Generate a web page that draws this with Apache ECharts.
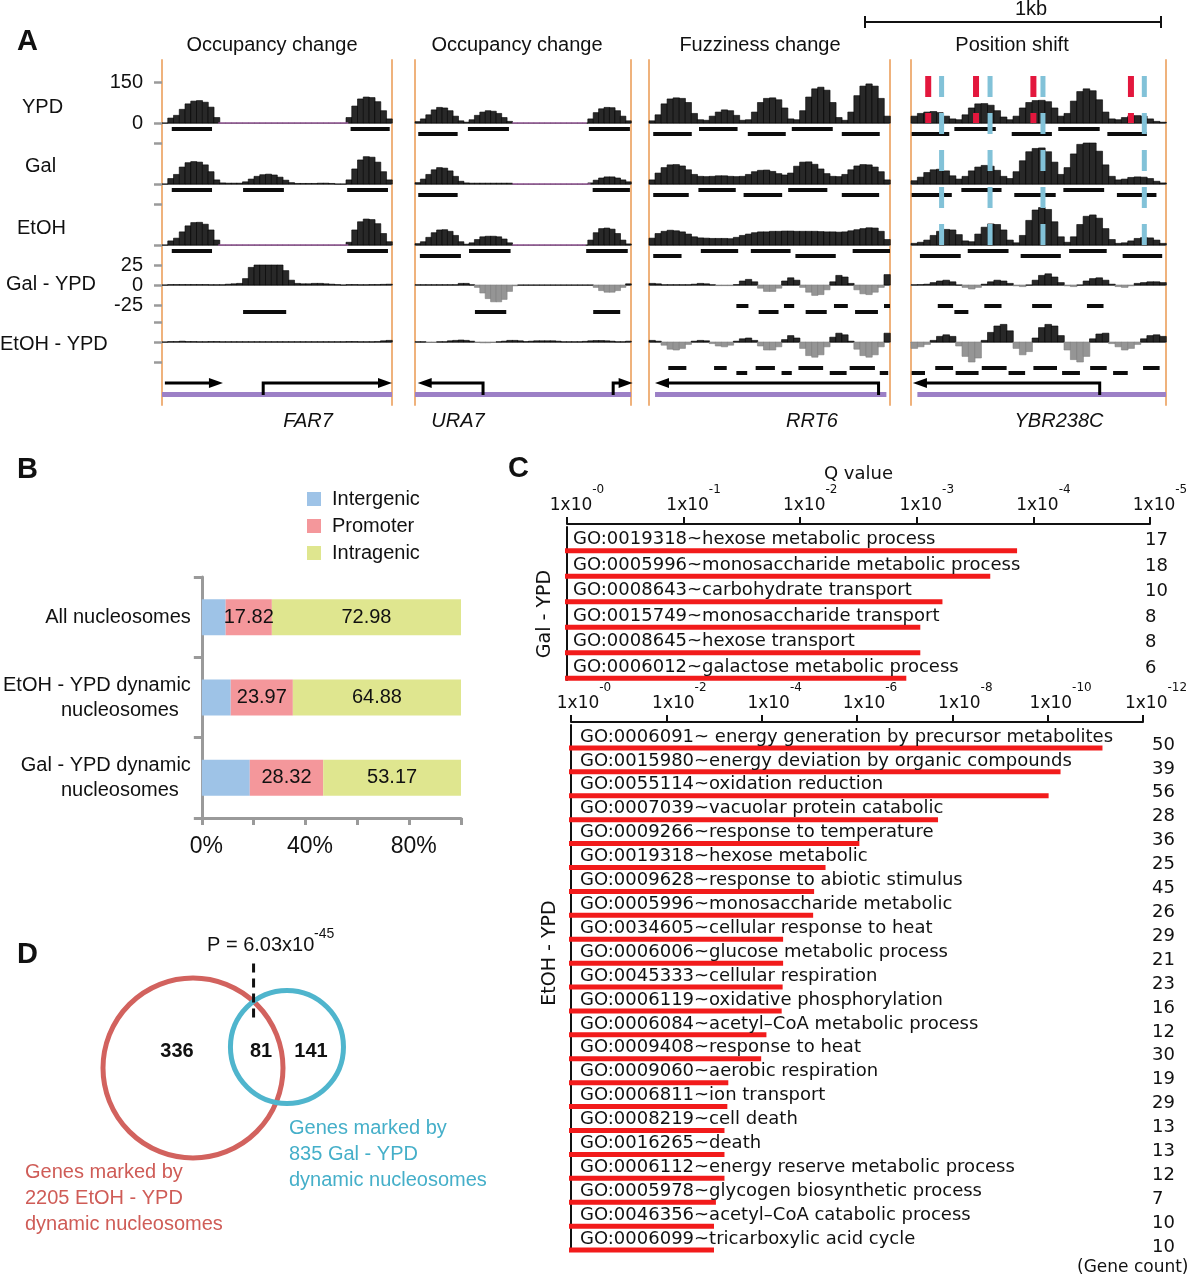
<!DOCTYPE html>
<html><head><meta charset="utf-8">
<script src="https://cdn.jsdelivr.net/npm/echarts@6/dist/echarts.min.js"></script>
<style>html,body{margin:0;padding:0;background:#fff}#c{width:1195px;height:1280px}</style>
</head><body><div id="c"></div>
<script>
// ================= DATA =================
const NBIN = 40;
const columnTitles = ['Occupancy change', 'Occupancy change', 'Fuzziness change', 'Position shift'];
const geneNames = ['FAR7', 'URA7', 'RRT6', 'YBR238C'];
const trackNames = ['YPD', 'Gal', 'EtOH', 'Gal - YPD', 'EtOH - YPD'];

// nucleosome read profiles (40 bins per locus)
const FAR7_YPD = [0,18,28,50,70,80,82,76,58,20, 0,0,0,0,0,0,0,0,0,0, 0,0,0,0,0,0,0,0,0,0, 0,0,20,62,88,95,93,78,45,15];
const FAR7_Gal = [0,20,35,62,78,82,80,70,45,15, 4,3,3,3,8,18,28,34,36,33, 25,14,5,2,2,2,2,3,3,2, 0,0,15,55,88,100,98,80,45,15];
const FAR7_EtOH = [0,15,25,48,70,82,83,76,55,18, 0,0,0,0,0,0,0,0,0,0, 0,0,0,0,0,0,0,0,0,0, 0,0,10,55,85,95,93,78,42,12];
const FAR7_GalDiff = [0,0.5,0.5,0.5,0.5,0.5,0.5,0.5,0.3,0.3, 0.3,1,1.5,2,8,22,25,25,25,25, 25,18,6,2,1.5,1.5,2,2,1.5,1, 0.5,0,0.5,0.5,0.3,0.3,0.5,0.5,0.8,1];
const FAR7_EtOHDiff = [0,0.5,0.5,1,0.5,0.5,0.3,0.3,0.5,0.5, 0.3,0.3,0.3,0.3,0.3,0.3,0.3,0.3,0.3,0.3, 0.3,0.3,0.3,0.3,0.3,0.3,0.3,0.3,0.3,0.3, 0.3,0.3,0.5,0.5,0.3,0.3,0.3,0.5,1.5,2];

const URA7_YPD = [5,15,30,48,57,55,45,25,8,3, 12,28,40,45,43,35,20,6,0,0, 0,0,0,0,0,0,0,0,0,0, 0,0,15,38,52,57,56,45,25,8];
const URA7_Gal = [5,18,35,52,60,58,48,28,10,4, 3,3,3,3,3,3,3,3,0,0, 0,0,0,0,0,0,0,0,0,0, 0,0,4,14,22,26,26,22,15,8];
const URA7_EtOH = [5,12,28,45,55,56,50,35,12,3, 8,20,30,32,32,30,22,8,0,0, 0,0,0,0,0,0,0,0,0,0, 0,0,18,45,60,62,58,42,18,4];
const URA7_GalDiff = [0.3,0.3,0.3,0.3,0.3,0.3,0.3,0.3,2,2, 0.3,-3,-10,-17,-21,-21,-18,-8,-1,0, 0,0,0,0,0,0,0,0,0,0, 0,0,0,-3,-7,-9,-9,-7,-3,1.5];
const URA7_EtOHDiff = [0.3,0.3,-0.5,-0.5,0.3,0.3,1.5,2,2.5,2, 1,-0.5,-1,-1,-0.5,0.3,1,2,2,1.5, 0.5,1,1.5,1.5,1.5,1.5,1,0.3,0.3,0.3, 0.3,0.8,1.5,1.8,1.8,1.5,1,0.3,0.3,1];

const RRT6_YPD = [8,30,70,88,92,90,75,35,12,10, 25,40,48,45,28,10,12,40,75,90, 92,85,55,15,12,45,95,125,131,120, 75,20,10,40,100,135,143,135,90,25];
const RRT6_Gal = [15,40,60,70,71,66,52,35,28,27, 28,30,30,28,27,28,35,45,50,51, 46,38,33,40,65,80,81,72,55,38, 28,27,35,52,66,71,70,62,45,15];
const RRT6_EtOH = [25,42,50,54,52,48,40,30,26,25, 24,24,24,23,28,35,40,45,48,48, 50,50,51,51,50,50,50,50,49,48, 48,47,48,52,56,60,63,62,50,20];
const RRT6_GalDiff = [2,1.5,0.3,0.3,0.3,0.3,0.3,1,2,1.5, 0.3,-0.8,-0.8,-0.8,0.5,5,7,4,-4,-8, -8,-4,5,9,6,-3,-9,-13,-12,-6, 4,12,10,2,-6,-11,-12,-9,-3,13];
const RRT6_EtOHDiff = [2,1,-4,-9,-10,-8,-3,1,2,1.5, -2,-5,-6,-4,1,4,5,2,-5,-10, -10,-6,3,8,5,-8,-17,-19,-16,-6, 6,11,9,1,-9,-17,-19,-16,-6,11];

const YBR238C_YPD = [25,35,40,42,38,25,15,12,30,55, 70,71,65,45,22,12,25,55,75,82, 83,78,55,25,35,80,115,125,118,85, 40,15,12,20,26,27,25,15,6,3];
const YBR238C_Gal = [12,25,42,52,54,48,30,18,28,48, 62,68,65,50,28,20,45,85,118,130, 132,118,80,35,60,110,145,152,150,120, 70,28,15,18,24,26,25,20,10,4];
const YBR238C_EtOH = [6,10,18,35,50,57,55,38,15,12, 40,65,77,75,55,18,8,35,90,128, 137,130,85,30,10,30,75,105,110,98, 60,20,6,8,15,24,27,26,18,6];
const YBR238C_GalDiff = [0.3,0.5,1,3,5,6,4,0,-3,-5, -3,1,4,6,5,2,-1,-2,0,6, 12,14,10,3,-1,-2,0,5,8,9, 6,1,-2,-3,-1,2,3,4,4,3];
const YBR238C_EtOHDiff = [-8,-6,-3,2,7,9,7,-5,-18,-26, -20,2,12,20,22,14,-8,-16,-12,5, 18,22,20,8,-10,-22,-26,-18,4,10, 11,-2,-6,-10,-8,-3,4,8,9,7];

// nucleosome calls: [start bin, end bin, level (0 lower / 1 upper)]
const FAR7_YPD_calls = [[1.7,8.7,1],[32.8,39.6,1]];
const FAR7_Gal_calls = [[1.7,8.7,1],[14.1,21.2,1],[32.2,39.3,1]];
const FAR7_EtOH_calls = [[1.7,8.7,1],[32.2,39.3,1]];
const FAR7_GalDiff_calls = [[14.1,21.6,0]];
const FAR7_EtOHDiff_calls = [];

const URA7_YPD_calls = [[0.6,7.9,0],[9.8,17.4,1],[32.2,39.8,1]];
const URA7_Gal_calls = [[0.6,7.9,0],[32.9,39.8,1]];
const URA7_EtOH_calls = [[0.9,8.5,0],[10,17.7,1],[31.7,39.4,1]];
const URA7_GalDiff_calls = [[11.1,16.9,0],[33,38,0]];
const URA7_EtOHDiff_calls = [];

const RRT6_YPD_calls = [[0.7,7.1,0],[8.3,14.7,1],[16.4,22.7,0],[23.7,30.5,1],[32,38.3,0]];
const RRT6_Gal_calls = [[0.7,6.6,0],[8.2,14.4,1],[15.7,22.1,0],[23.1,29.6,1],[32,38.2,0]];
const RRT6_EtOH_calls = [[0.7,5.4,0],[8.6,14.8,1],[16.9,23.5,1],[24.3,31,0],[33.8,40,1]];
const RRT6_GalDiff_calls = [[14.5,16.5,1],[18.2,21.5,0],[22.4,24.1,1],[26,29.5,0],[30.7,33,1],[34.2,38,0],[39,40,1]];
const RRT6_EtOHDiff_calls = [[3.2,6.2,1],[10.8,12.9,1],[14.5,16.3,0],[17.7,20.9,1],[22,23.7,0],[24.8,28.9,1],[30,32.8,0],[33.3,37.5,1],[38.3,39.7,0]];

const YBR238C_YPD_calls = [[0.1,6,0],[6.8,13.3,1],[15.8,22.1,0],[23.1,29.6,1],[30.8,37,0]];
const YBR238C_Gal_calls = [[0.1,6.4,0],[7.9,14.2,1],[16.2,22.7,0],[23.9,30.3,1],[32.3,38.5,0]];
const YBR238C_EtOH_calls = [[1.4,7.8,0],[8.9,15.3,1],[17.2,23.5,0],[24.8,30.7,1],[33.2,39.4,0]];
const YBR238C_GalDiff_calls = [[4.2,6.6,1],[6.8,9,0],[11.5,14.2,1],[19,22.1,1],[27.6,30.2,1]];
const YBR238C_EtOHDiff_calls = [[0.1,2.2,0],[3.8,6.6,1],[7,10.6,0],[11.1,15,1],[15.3,17.9,0],[19.2,22.9,1],[23.7,26.5,0],[28.1,30.7,1],[31.7,34,0],[36.4,39,1]];

// regions without reads (thin magenta line): [start, end]
const FAR7_noData = [[[9.8,32.4]], [], [[9.8,32.4]], [], []];
const URA7_noData = [[[18,31.8]], [[18,32.5]], [[18,31.6]], [], []];
const RRT6_noData = [[], [], [], [], []];
const YBR238C_noData = [[], [], [], [], []];

// gene models: [from (TSS side), to (arrow head), has TSS mark]
const FAR7_genes = [[0.5,10.6,0],[17.6,40,1]];
const URA7_genes = [[12.6,0.5,1],[36.7,40.3,1]];
const RRT6_genes = [[38.1,1,1]];
const YBR238C_genes = [[29.6,0.3,1]];
const chromosomeExtent = [[0,40],[0,40],[1,39.4],[1,40]];

// nucleosome dyad positions (position shift locus)
const dyadYPD = [2.7, 10.2, 19.2, 34.5];
const dyadShifted = [4.8, 12.4, 20.7, 36.6];

// ---- Panel B ----
const regionCats = ['All nucleosomes', 'EtOH - YPD dynamic\nnucleosomes', 'Gal - YPD dynamic\nnucleosomes'];
const intergenicPct = [9.20, 11.15, 18.51];
const promoterPct = [17.82, 23.97, 28.32];
const intragenicPct = [72.98, 64.88, 53.17];

// ---- Panel C ----
const galTerms = ['GO:0019318~hexose metabolic process','GO:0005996~monosaccharide metabolic process','GO:0008643~carbohydrate transport','GO:0015749~monosaccharide transport','GO:0008645~hexose transport','GO:0006012~galactose metabolic process'];
const galNegLog10Q = [3.86, 3.63, 3.22, 3.03, 3.03, 2.91];
const galGeneCount = [17, 18, 10, 8, 8, 6];

const etohTerms = ['GO:0006091~ energy generation by precursor metabolites','GO:0015980~energy deviation by organic compounds','GO:0055114~oxidation reduction','GO:0007039~vacuolar protein catabolic','GO:0009266~response to temperature','GO:0019318~hexose metabolic','GO:0009628~response to abiotic stimulus','GO:0005996~monosaccharide metabolic','GO:0034605~cellular response to heat','GO:0006006~glucose metabolic process','GO:0045333~cellular respiration','GO:0006119~oxidative phosphorylation','GO:0006084~acetyl\u2013CoA metabolic process','GO:0009408~response to heat','GO:0009060~aerobic respiration','GO:0006811~ion transport','GO:0008219~cell death','GO:0016265~death','GO:0006112~energy reserve metabolic process','GO:0005978~glycogen biosynthetic process','GO:0046356~acetyl\u2013CoA catabolic process','GO:0006099~tricarboxylic acid cycle'];
const etohNegLog10Q = [11.15, 10.27, 10.02, 7.70, 6.05, 5.34, 5.10, 5.08, 4.45, 4.45, 4.44, 4.42, 4.10, 3.99, 3.30, 3.28, 3.22, 3.22, 3.22, 3.04, 3.00, 3.00];
const etohGeneCount = [50, 39, 56, 28, 36, 25, 45, 26, 29, 21, 23, 16, 12, 30, 19, 29, 13, 13, 12, 7, 10, 10];

// ---- Panel D ----
const vennSetNames = ['EtOH - YPD', 'Gal - YPD'];
const vennRadius = [1.0, 0.628];
const vennCenterX = [0, 1.044];
const vennCenterY = [0, 0.233];
const vennRegionCounts = [336, 81, 141];
const vennRegionX = [-0.178, 0.756, 1.311];
const vennRegionY = [0.178, 0.178, 0.178];

// ================= LAYOUT / STYLE =================
const FONT = 'Liberation Sans, Arial, sans-serif';
const FONTC = 'DejaVu Sans, sans-serif';
const COLS = [{x0:162,x1:392},{x0:415,x1:631},{x0:649,x1:890},{x0:911,x1:1166}];
const TRACKS = [
  {top:82, h:41, min:0, max:150, base:'zero', off:[11,6]},
  {top:143,h:41, min:0, max:150, base:'zero', off:[11,6]},
  {top:204,h:41, min:0, max:150, base:'zero', off:[11,6]},
  {top:265,h:40, min:-25,max:25, base:'min',  off:[7,1]},
  {top:322,h:40, min:-25,max:25, base:'min',  off:[11,6]}
];
const profiles = [
  [FAR7_YPD, FAR7_Gal, FAR7_EtOH, FAR7_GalDiff, FAR7_EtOHDiff],
  [URA7_YPD, URA7_Gal, URA7_EtOH, URA7_GalDiff, URA7_EtOHDiff],
  [RRT6_YPD, RRT6_Gal, RRT6_EtOH, RRT6_GalDiff, RRT6_EtOHDiff],
  [YBR238C_YPD, YBR238C_Gal, YBR238C_EtOH, YBR238C_GalDiff, YBR238C_EtOHDiff]];
const callSets = [
  [FAR7_YPD_calls, FAR7_Gal_calls, FAR7_EtOH_calls, FAR7_GalDiff_calls, FAR7_EtOHDiff_calls],
  [URA7_YPD_calls, URA7_Gal_calls, URA7_EtOH_calls, URA7_GalDiff_calls, URA7_EtOHDiff_calls],
  [RRT6_YPD_calls, RRT6_Gal_calls, RRT6_EtOH_calls, RRT6_GalDiff_calls, RRT6_EtOHDiff_calls],
  [YBR238C_YPD_calls, YBR238C_Gal_calls, YBR238C_EtOH_calls, YBR238C_GalDiff_calls, YBR238C_EtOHDiff_calls]];
const noDataSets = [FAR7_noData, URA7_noData, RRT6_noData, YBR238C_noData];
const geneSets = [FAR7_genes, URA7_genes, RRT6_genes, YBR238C_genes];

const grids = [], xAxes = [], yAxes = [], series = [];
function clamp(v,a,b){ return Math.max(a, Math.min(b, v)); }
function addPanel(gridSpec, xSpec, ySpec){
  const gi = grids.length; grids.push(gridSpec);
  const xi = xAxes.length; xAxes.push(Object.assign({gridIndex:gi}, xSpec));
  const yi = yAxes.length; yAxes.push(Object.assign({gridIndex:gi}, ySpec));
  return {gi, xi, yi};
}
function hidden(min, max){ return {type:'value', min:min, max:max, show:false, splitLine:{show:false}}; }

// ---------- Panel A ----------
COLS.forEach((col, c) => {
  TRACKS.forEach((tr, t) => {
    const P = addPanel({left:col.x0, top:tr.top, width:col.x1-col.x0, height:tr.h},
      {type:'value', min:0, max:NBIN, show:true,
        axisLine:{show:true, onZero:true, lineStyle:{color:'#8a8a8a', width:1}},
        axisTick:{show:false}, axisLabel:{show:false}, splitLine:{show:false}},
      {type:'value', min:tr.min, max:tr.max, interval: tr.min<0 ? 25 : 150,
        show: c===0, offset:4, axisLine:{show:false},
        axisTick:{show:true, length:8, lineStyle:{color:'#9a9a9a', width:2.5}},
        axisLabel:{show: c===0 && (t===0 || t===3), margin:15, fontSize:20, fontFamily:FONT, color:'#111'},
        splitLine:{show:false}});
    const base = {type:'custom', xAxisIndex:P.xi, yAxisIndex:P.yi, silent:true};
    series.push(Object.assign({}, base, {data:noDataSets[c][t], z:3,
      renderItem:(p, api) => {
        const a = api.coord([api.value(0), 0]), b = api.coord([api.value(1), 0]);
        return {type:'line', shape:{x1:a[0], y1:a[1], x2:b[0], y2:b[1]}, style:{stroke:'#d27ad6', lineWidth:1.2}};
      }}));
    series.push(Object.assign({}, base, {data: profiles[c][t].map((v,i) => [i, v]),
      renderItem:(p, api) => {
        const i = api.value(0), v = clamp(api.value(1), tr.min, tr.max);
        const a = api.coord([i, 0]), b = api.coord([i+1, v]);
        const neg = v < 0;
        return {type:'rect', shape:{x:a[0], y:Math.min(a[1], b[1]), width:b[0]-a[0]+0.3, height:Math.abs(b[1]-a[1])},
          style:{fill: neg ? '#959595' : '#282828', stroke: neg ? '#808080' : '#000', lineWidth:0.6}};
      }}));
    const baseV = tr.base === 'zero' ? 0 : tr.min;
    series.push(Object.assign({}, base, {data: callSets[c][t],
      renderItem:(p, api) => {
        const a = api.coord([api.value(0), baseV]), b = api.coord([api.value(1), baseV]);
        const y = a[1] + tr.off[api.value(2)];
        return {type:'rect', shape:{x:a[0], y:y-2, width:b[0]-a[0], height:4}, style:{fill:'#0d0d0d'}};
      }}));
  });
  // gene model
  const G = addPanel({left:col.x0, top:378, width:col.x1-col.x0, height:20}, hidden(0, NBIN), hidden(0, 1));
  series.push({type:'custom', xAxisIndex:G.xi, yAxisIndex:G.yi, silent:true, data:[chromosomeExtent[c]],
    renderItem:(p, api) => {
      const a = api.coord([api.value(0), 0]), b = api.coord([api.value(1), 0]);
      return {type:'rect', shape:{x:a[0], y:a[1]-6, width:b[0]-a[0], height:5}, style:{fill:'#9c80c6'}};
    }});
  series.push({type:'custom', xAxisIndex:G.xi, yAxisIndex:G.yi, silent:true, data:geneSets[c],
    renderItem:(p, api) => {
      const f = api.value(0), to = api.value(1), tss = api.value(2);
      const pf = api.coord([f, 1]), pt = api.coord([to, 1]);
      const ay = pf[1] + 5, by = api.coord([f, 0])[1] - 3;
      const dir = to > f ? 1 : -1;
      const pts = [];
      if (tss) pts.push([pf[0], by]);
      pts.push([pf[0], ay]); pts.push([pt[0] - dir*9, ay]);
      return {type:'group', children:[
        {type:'polyline', shape:{points:pts}, style:{stroke:'#000', lineWidth:3, fill:null}},
        {type:'polygon', shape:{points:[[pt[0], ay], [pt[0]-dir*14, ay-5], [pt[0]-dir*14, ay+5]]}, style:{fill:'#000'}}
      ]};
    }});
  // frame: orange borders drawn as the left and right y axes of a full-height grid
  const frameAxis = {type:'value', min:0, max:1, show:true,
    axisLine:{show:true, lineStyle:{color:'#efb27c', width:2}}, axisTick:{show:false}, axisLabel:{show:false}, splitLine:{show:false}};
  const F = addPanel({left:col.x0, top:60, width:col.x1-col.x0, height:345}, hidden(0, 1), Object.assign({position:'left'}, frameAxis));
  yAxes.push(Object.assign({gridIndex:F.gi, position:'right'}, frameAxis));
});
// dyad markers over position-shift locus
{
  const M = addPanel({left:COLS[3].x0, top:76, width:COLS[3].x1-COLS[3].x0, height:169}, hidden(0, NBIN), hidden(0, 1));
  series.push({type:'custom', xAxisIndex:M.xi, yAxisIndex:M.yi, silent:true, z:5, data:dyadShifted.map(v=>[v, 0]),
    renderItem:(p, api) => {
      const a = api.coord([api.value(0), 1]), b = api.coord([api.value(0), 0]);
      return {type:'line', shape:{x1:a[0], y1:a[1], x2:b[0], y2:b[1]}, style:{stroke:'#82c2d8', lineWidth:5, lineDash:[21,16]}};
    }});
  series.push({type:'custom', xAxisIndex:M.xi, yAxisIndex:M.yi, silent:true, z:5, data:dyadYPD.map(v=>[v, 0]),
    renderItem:(p, api) => {
      const a = api.coord([api.value(0), 1]);
      return {type:'line', shape:{x1:a[0], y1:a[1], x2:a[0], y2:a[1]+47}, style:{stroke:'#e3173d', lineWidth:6, lineDash:[21,16]}};
    }});
}

// ---------- Panel B ----------
{
  const catStyle = {fontSize:20, fontFamily:FONT, color:'#111', lineHeight:25};
  const B = addPanel({left:199, top:577, width:262, height:241},
    {type:'value', min:0, max:100, interval:20,
      axisLine:{show:true, lineStyle:{color:'#9a9a9a', width:3}},
      axisTick:{show:true, length:7, lineStyle:{color:'#9a9a9a', width:3}},
      axisLabel:{formatter: v => (v % 40 === 0 && v < 100) ? v + '%' : '', fontSize:23, fontFamily:FONT, color:'#111', margin:17, padding:[0,0,0,9]},
      splitLine:{show:false}},
    {type:'category', data:regionCats, inverse:true,
      axisLine:{show:true, lineStyle:{color:'#9a9a9a', width:3}},
      axisTick:{show:true, length:8, lineStyle:{color:'#9a9a9a', width:3}},
      axisLabel:{margin:11, align:'right',
        formatter: v => { const p = v.split('\n'); return p.length > 1 ? '{a|' + p[0] + '}\n{n|' + p[1] + '}' : '{a|' + v + '}'; },
        rich:{a:catStyle, n:Object.assign({padding:[0,12,0,0]}, catStyle)}}});
  const cols = ['#9ec3e7', '#f4979b', '#dfe68f'];
  [['Intergenic', intergenicPct, false], ['Promoter', promoterPct, true], ['Intragenic', intragenicPct, true]].forEach((s, k) => {
    series.push({type:'bar', name:s[0], stack:'pct', xAxisIndex:B.xi, yAxisIndex:B.yi, data:s[1], barWidth:36,
      itemStyle:{color:cols[k]}, silent:true,
      label:{show:s[2], position:'inside', color:'#111', fontSize:20, fontFamily:FONT, formatter: p => Number(p.value).toFixed(2)}});
  });
}

// ---------- Panel C ----------
function qAxis(max, withName, padLeft){
  return {type:'value', min:0, max:max, interval: max>6 ? 2 : 1, position:'top', offset:3,
    axisLine:{show:true, lineStyle:{color:'#111', width:2}},
    axisTick:{show:true, length:7, lineStyle:{color:'#111', width:2}},
    axisLabel:{margin:10, padding:[0,0,0,padLeft], formatter: v => '{b|1x10}{s|-' + v + '}',
      rich:{b:{fontSize:17, fontFamily:FONTC, color:'#111', verticalAlign:'bottom', lineHeight:30},
            s:{fontSize:12, fontFamily:FONTC, color:'#111', verticalAlign:'top', lineHeight:30}}},
    name: withName ? 'Q value' : '', nameLocation:'middle', nameGap:40,
    nameTextStyle:{fontSize:18, fontFamily:FONTC, color:'#111'},
    splitLine:{show:false}};
}
function termAxis(terms){
  return {type:'category', data:terms, inverse:true,
    axisLine:{show:true, lineStyle:{color:'#111', width:2}}, axisTick:{show:false}, axisLabel:{show:false}};
}
function goSeries(P, vals, names, counts, max, cfg){
  return {type:'custom', xAxisIndex:P.xi, yAxisIndex:P.yi, silent:true, data: vals.map((v,i) => [v, i]),
    renderItem:(p, api) => {
      const i = p.dataIndex, v = api.value(0);
      const a = api.coord([0, i]), b = api.coord([v, i]), r = api.coord([max, i]);
      return {type:'group', children:[
        {type:'rect', shape:{x:a[0]-2, y:a[1]+8.5, width:b[0]-a[0]+2, height:5}, style:{fill:'#f21b1b'}},
        {type:'text', style:{text:names[i], x:a[0]+cfg.textDx, y:a[1], fontSize:18, fontFamily:FONTC, fill:'#111', align:'left', verticalAlign:'middle'}},
        {type:'text', style:{text:String(counts[i]), x:r[0]+cfg.countDx, y:a[1]+cfg.countDy, fontSize:18, fontFamily:FONTC, fill:'#111', align:'left', verticalAlign:'middle'}}
      ]};
    }};
}
{
  const C1 = addPanel({left:567, top:527, width:583, height:153}, qAxis(5, true, 20), termAxis(galTerms));
  series.push(goSeries(C1, galNegLog10Q, galTerms, galGeneCount, 5, {textDx:6, countDx:-5, countDy:1}));
  const C2 = addPanel({left:571, top:725, width:572, height:526}, qAxis(12, false, 26), termAxis(etohTerms));
  series.push(goSeries(C2, etohNegLog10Q, etohTerms, etohGeneCount, 12, {textDx:9, countDx:9, countDy:8}));
}

// ---------- Panel D ----------
{
  const D = addPanel({left:58, top:960, width:360, height:216}, hidden(-1.5, 2.5), hidden(-1.2, 1.2));
  const circleColors = ['#d2625e', '#4fb5cd'];
  series.push({type:'custom', xAxisIndex:D.xi, yAxisIndex:D.yi, silent:true,
    data: vennRadius.map((r, i) => [vennCenterX[i], vennCenterY[i], r]),
    renderItem:(p, api) => {
      const c = api.coord([api.value(0), api.value(1)]);
      const rr = api.size([api.value(2), 0])[0];
      return {type:'circle', shape:{cx:c[0], cy:c[1], r:rr}, style:{fill:null, stroke:circleColors[p.dataIndex], lineWidth:5}};
    }});
  series.push({type:'custom', xAxisIndex:D.xi, yAxisIndex:D.yi, silent:true,
    data: vennRegionCounts.map((n, i) => [vennRegionX[i], vennRegionY[i]]),
    renderItem:(p, api) => {
      const c = api.coord([api.value(0), api.value(1)]);
      return {type:'text', style:{text:String(vennRegionCounts[p.dataIndex]), x:c[0], y:c[1], fontSize:20, fontWeight:'bold', fontFamily:FONT, fill:'#111', align:'center', verticalAlign:'middle'}};
    }});
  const dx = vennCenterX[1]-vennCenterX[0], dy = vennCenterY[1]-vennCenterY[0];
  const d = Math.sqrt(dx*dx+dy*dy), r1 = vennRadius[0], r2 = vennRadius[1];
  const aa = (r1*r1 - r2*r2 + d*d) / (2*d), hh = Math.sqrt(r1*r1 - aa*aa);
  const ix = vennCenterX[0] + aa*dx/d - hh*dy/d, iy = vennCenterY[0] + aa*dy/d + hh*dx/d;
  series.push({type:'custom', xAxisIndex:D.xi, yAxisIndex:D.yi, silent:true, z:4, data:[[ix, iy]],
    renderItem:(p, api) => {
      const c = api.coord([api.value(0), api.value(1)]);
      return {type:'line', shape:{x1:c[0], y1:c[1]-38, x2:c[0], y2:c[1]+20}, style:{stroke:'#111', lineWidth:3, lineDash:[9,6]}};
    }});
}

// ---------- Text annotations ----------
function txt(text, x, y, o){
  o = o || {};
  const style = {text:text, x:0, y:0, fontSize:o.size||20, fontFamily:o.family||FONT,
    fontWeight:o.weight||'normal', fontStyle:o.style||'normal', fill:o.color||'#111',
    align:o.align||'left', verticalAlign:o.va||'middle'};
  if (o.lh) style.lineHeight = o.lh;
  return {type:'text', silent:true, x:x, y:y, rotation:o.rot||0, style:style};
}
const graphics = [];
[['A',17,42],['B',17,470],['C',508,469],['D',17,955]].forEach(l => graphics.push(txt(l[0], l[1], l[2], {size:29, weight:'bold'})));
const titleX = [272, 517, 760, 1012];
columnTitles.forEach((t, i) => graphics.push(txt(t, titleX[i], 45, {align:'center'})));
const geneX = [308, 458, 812, 1059];
geneNames.forEach((t, i) => graphics.push(txt(t, geneX[i], 421, {align:'center', style:'italic'})));
const rowLabelX = [22, 25, 17, 6, 0], rowLabelY = [107, 166, 228, 284, 344];
trackNames.forEach((t, i) => graphics.push(txt(t, rowLabelX[i], rowLabelY[i])));
graphics.push({type:'line', silent:true, shape:{x1:865, y1:22, x2:1161, y2:22}, style:{stroke:'#111', lineWidth:2}});
graphics.push({type:'line', silent:true, shape:{x1:865, y1:16, x2:865, y2:28}, style:{stroke:'#111', lineWidth:2}});
graphics.push({type:'line', silent:true, shape:{x1:1161, y1:16, x2:1161, y2:28}, style:{stroke:'#111', lineWidth:2}});
graphics.push(txt('1kb', 1031, 9, {align:'center'}));
// Panel C side titles and footnote
graphics.push(txt('Gal - YPD', 545, 614, {family:FONTC, size:19, align:'center', rot:Math.PI/2}));
graphics.push(txt('EtOH - YPD', 550, 953, {family:FONTC, size:19, align:'center', rot:Math.PI/2}));
graphics.push(txt('(Gene count)', 1077, 1268, {family:FONTC, size:17}));
// Panel D
graphics.push(txt('P = 6.03x10', 207, 945));
graphics.push(txt('-45', 314, 934, {size:14}));
graphics.push(txt('Genes marked by\n2205 EtOH - YPD\ndynamic nucleosomes', 25, 1198, {color:'#cf5c57', lh:26}));
graphics.push(txt('Genes marked by\n835 Gal - YPD\ndynamic nucleosomes', 289, 1154, {color:'#45afc9', lh:26}));

const option = {
  animation:false,
  backgroundColor:'#fff',
  grid: grids, xAxis: xAxes, yAxis: yAxes, series: series,
  legend:{data:['Intergenic','Promoter','Intragenic'], orient:'vertical', left:302, top:484, itemWidth:14, itemHeight:14, itemGap:7,
    icon:'rect', selectedMode:false, textStyle:{fontSize:20, fontFamily:FONT, color:'#111', padding:[0,0,0,6], lineHeight:20}},
  graphic: {elements: graphics}
};
const chart = echarts.init(document.getElementById('c'), null, {renderer:'canvas', width:1195, height:1280});
chart.setOption(option);
</script></body></html>
